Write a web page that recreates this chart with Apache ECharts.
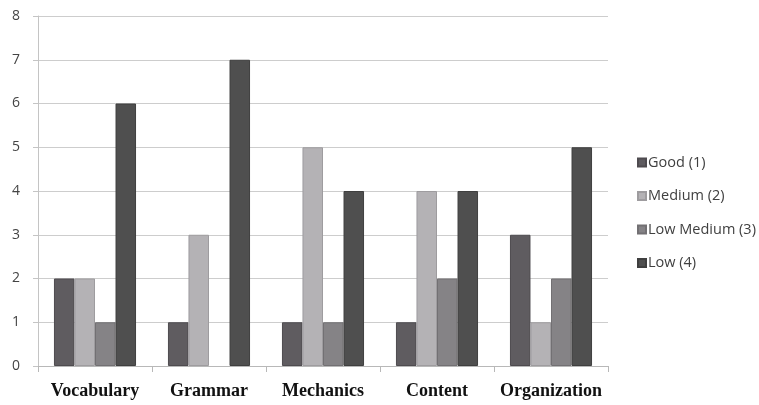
<!DOCTYPE html>
<html><head><meta charset="utf-8">
<script src="https://cdn.jsdelivr.net/npm/echarts@6/dist/echarts.min.js"></script>
<style>html,body{margin:0;padding:0;background:#fff}#c{width:759px;height:405px}</style>
</head><body><div id="c"></div>
<script>
const categories = ['Vocabulary','Grammar','Mechanics','Content','Organization'];
const seriesNames = ['Good (1)','Medium (2)','Low Medium (3)','Low (4)'];
const good = [2,1,1,1,3];
const medium = [2,3,5,4,1];
const lowMedium = [1,0,1,2,2];
const low = [6,7,4,4,5];
const yTicks = [0,1,2,3,4,5,6,7,8];

const colors = ['#5f5c60','#b4b2b5','#858386','#4f4f4f'];
const borders = ['#4e4b4f','#9e9c9f','#727073','#3f3f3f'];
const values = [good, medium, lowMedium, low];

const chart = echarts.init(document.getElementById('c'));
chart.setOption({
  animation:false,
  grid:{left:38, top:16, right:151, bottom:39, containLabel:false},
  legend:{
    orient:'vertical', left:632, top:150, itemGap:18.5,
    itemWidth:8, itemHeight:8, icon:'rect',
    textStyle:{fontFamily:'Open Sans', fontSize:14.5, color:'#404040', padding:[0,0,0,-3]},
    data:seriesNames
  },
  xAxis:{
    type:'category', data:categories,
    axisLine:{lineStyle:{color:'#b8b8b8'}},
    axisTick:{show:true, alignWithLabel:false, length:6, lineStyle:{color:'#b8b8b8'}},
    axisLabel:{interval:0, fontFamily:'Liberation Serif', fontWeight:'bold', fontSize:18, color:'#111', margin:16}
  },
  yAxis:{
    type:'value', min:0, max:8, interval:1,
    axisLine:{show:true, lineStyle:{color:'#c4c4c4'}},
    axisTick:{show:true, length:5, lineStyle:{color:'#c4c4c4'}},
    splitLine:{lineStyle:{color:'#cdcdcd'}},
    axisLabel:{fontFamily:'Open Sans', fontSize:14, color:'#444', margin:18,
      formatter:v=>yTicks.includes(v)?String(v):''}
  },
  series: seriesNames.map((n,i)=>({
    name:n, type:'bar',
    data:values[i].map(v=>v===0?{value:v, itemStyle:{borderWidth:0}}:v),
    barGap:'0%', barCategoryGap:'28%',
    itemStyle:{color:colors[i], borderColor:borders[i], borderWidth:1}
  }))
});
</script></body></html>
